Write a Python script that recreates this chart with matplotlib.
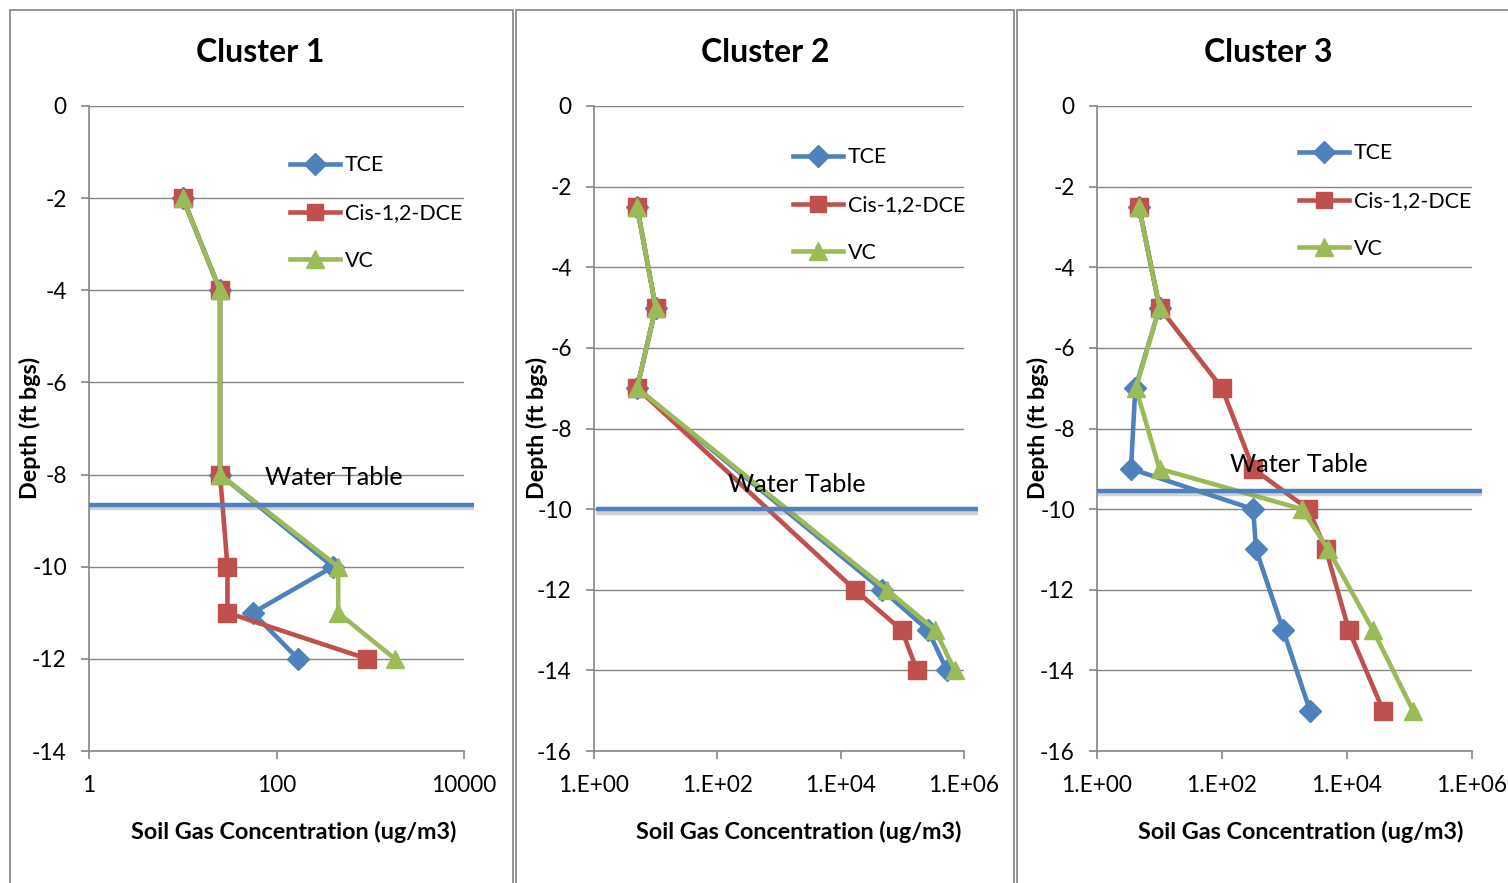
import matplotlib
matplotlib.use("Agg")
import matplotlib.pyplot as plt
import matplotlib.patheffects as pe
from matplotlib.patches import Rectangle
from matplotlib.ticker import FixedLocator, FixedFormatter, NullLocator

plt.rcParams['font.family'] = ['Lato', 'DejaVu Sans']
plt.rcParams['axes.unicode_minus'] = False

# ---------------- data ----------------
titles = ["Cluster 1", "Cluster 2", "Cluster 3"]
series_names = ["TCE", "Cis-1,2-DCE", "VC"]

depth1 = [-2, -4, -8, -10, -11, -12]
tce1 = [10, 25, 25, 400, 56, 170]
cis1 = [10, 25, 25, 30, 30, 930]
vc1 = [10, 25, 25, 455, 455, 1830]

depth2 = [-2.5, -5, -7, -12, -13, -14]
tce2 = [5, 10, 5, 47000, 260000, 530000]
cis2 = [5, 10, 5, 17000, 98000, 173000]
vc2 = [5, 10, 5, 56000, 340000, 710000]

depth3 = [-2.5, -5, -7, -9, -10, -11, -13, -15]
tce3 = [4.7, 10, 4.1, 3.5, 316, 350, 950, 2560]
cis3 = [4.7, 10, 100, 316, 2400, 4600, 10700, 38000]
vc3 = [4.7, 10, 4.2, 10, 1900, 5000, 26000, 114000]

water_table = [-8.65, -10.0, -9.55]
water_label = "Water Table"

xticks1 = [1, 100, 10000]
xticklabels1 = ["1", "100", "10000"]
xticks23 = [1, 1e2, 1e4, 1e6]
xticklabels23 = ["1.E+00", "1.E+02", "1.E+04", "1.E+06"]
yticks1 = list(range(0, -15, -2))
yticks23 = list(range(0, -17, -2))

# ---------------- styling ----------------
W, H = 1508, 883
colors = ["#4F81BD", "#C0504D", "#9BBB59"]
markers = ["D", "s", "^"]
msizes = [11.5, 12.5, 13.5]
grid_c = "#868686"

fig = plt.figure(figsize=(W / 100, H / 100), dpi=100)

# panel frames
for (x0, x1) in [(10, 513), (516, 1014), (1017, 1530)]:
    fig.add_artist(Rectangle((x0 / W, 1 - 920 / H), (x1 - x0) / W, 910 / H,
                             transform=fig.transFigure, fill=False,
                             edgecolor="#8c8c8c", lw=1.3, clip_on=False))

panels = [
    dict(depth=depth1, vals=[tce1, cis1, vc1], xlim=(1, 10000), ylim=(-14, 0),
         xt=xticks1, xtl=xticklabels1, yt=yticks1, px=(89, 464),
         wt_x=(0.0, 1.027), wl=(75, -8.07), leg=(290, 213)),
    dict(depth=depth2, vals=[tce2, cis2, vc2], xlim=(1, 1e6), ylim=(-16, 0),
         xt=xticks23, xtl=xticklabels23, yt=yticks23, px=(594, 964),
         wt_x=(0.005, 1.038), wl=(150, -9.4), leg=(793, 205)),
    dict(depth=depth3, vals=[tce3, cis3, vc3], xlim=(1, 1e6), ylim=(-16, 0),
         xt=xticks23, xtl=xticklabels23, yt=yticks23, px=(1097, 1472),
         wt_x=(0.0, 1.027), wl=(134, -8.9), leg=(1299, 201)),
]
title_cx = [260, 765, 1268]
xlabel_cx = [293.5, 799, 1301]
ylabel_cx = [30, 537, 1038]

top_px, bot_px = 106, 751
for i, p in enumerate(panels):
    l, r = p["px"]
    ax = fig.add_axes([l / W, 1 - bot_px / H, (r - l) / W, (bot_px - top_px) / H])
    ax.set_xscale("log")
    ax.set_xlim(*p["xlim"])
    ax.set_ylim(*p["ylim"])
    ax.xaxis.set_major_locator(FixedLocator(p["xt"]))
    ax.xaxis.set_major_formatter(FixedFormatter(p["xtl"]))
    ax.xaxis.set_minor_locator(NullLocator())
    ax.set_yticks(p["yt"])
    ax.set_yticklabels([str(v) for v in p["yt"]])
    for s in ["top", "right"]:
        ax.spines[s].set_visible(False)
    for s in ["left", "bottom"]:
        ax.spines[s].set_color(grid_c)
        ax.spines[s].set_linewidth(1.2)
    ax.yaxis.grid(True, color=grid_c, lw=1.0)
    ax.set_axisbelow(True)
    ax.tick_params(axis="both", colors=grid_c, labelcolor="black",
                   labelsize=16.3, length=6, width=1.2, direction="out")
    ax.tick_params(axis="y", pad=10)
    ax.tick_params(axis="x", pad=11)

    lines = []
    for k in range(3):
        ln, = ax.plot(p["vals"][k], p["depth"], color=colors[k], lw=3.3,
                      marker=markers[k], markersize=msizes[k],
                      markeredgecolor=colors[k], label=series_names[k],
                      clip_on=False, zorder=3 + k)
        lines.append(ln)

    # water table line
    trans = ax.get_yaxis_transform()
    wt = water_table[i]
    ax.plot(p["wt_x"], [wt, wt], transform=trans, color="#4F81BD", lw=3.2,
            clip_on=False, zorder=8, solid_capstyle="butt",
            path_effects=[pe.SimpleLineShadow(offset=(0, -2.5), shadow_color="gray", alpha=0.35),
                          pe.Normal()])
    ax.text(p["wl"][0], p["wl"][1], water_label, fontsize=18.2, va="center",
            ha="left", color="black", zorder=9)

    # titles / labels
    ax.text((title_cx[i] - l) / (r - l), (bot_px - 52) / (bot_px - top_px),
            titles[i], transform=ax.transAxes, ha="center", va="center",
            fontsize=23, fontweight="bold")
    ax.set_xlabel("Soil Gas Concentration (ug/m3)", fontsize=16.8, fontweight="bold")
    ax.xaxis.set_label_coords((xlabel_cx[i] - l) / (r - l),
                              (bot_px - 832) / (bot_px - top_px))
    ax.xaxis.label.set_va("center")
    ax.set_ylabel("Depth (ft bgs)", fontsize=16.8, fontweight="bold")
    ax.yaxis.set_label_coords((ylabel_cx[i] - l) / (r - l),
                              (bot_px - 428) / (bot_px - top_px))
    ax.yaxis.label.set_va("center")

    lx, ly = p["leg"]
    ax.legend(handles=lines, loc="center left",
              bbox_to_anchor=(lx / W, 1 - ly / H), bbox_transform=fig.transFigure,
              frameon=False, fontsize=15.4, handlelength=2.35, handletextpad=0.2,
              labelspacing=1.3, borderpad=0, borderaxespad=0, numpoints=1,
              markerscale=0.95)

fig.savefig("out.png", dpi=100)
